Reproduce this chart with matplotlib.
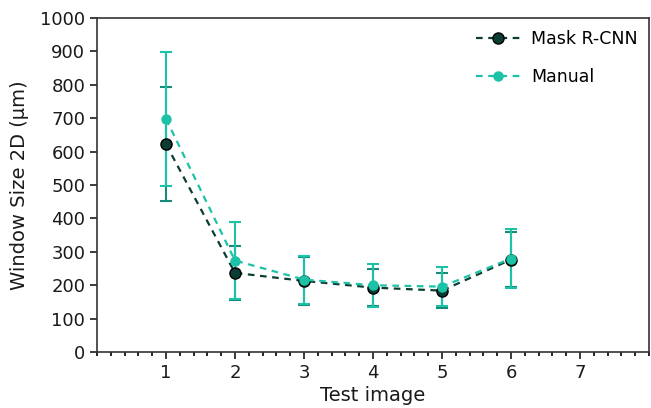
import numpy as np
import matplotlib
matplotlib.use("Agg")
from matplotlib import pyplot as plt
from matplotlib.ticker import MultipleLocator

images = [1, 2, 3, 4, 5, 6]
mask_rcnn = [622, 237, 213, 193, 184, 277]
mask_rcnn_err = [171, 80, 72, 55, 53, 83]
manual = [698, 274, 217, 200, 196, 280]
manual_err = [200, 115, 72, 65, 59, 88]

dark = '#0c3d35'
dark_err = '#178a78'
teal = '#1cc2a6'
txt = '#1a1a1a'

fig = plt.figure(figsize=(6.51, 4.08), dpi=100)
ax = fig.add_axes([0.149, 0.137, 0.848, 0.819])

ax.errorbar(images, mask_rcnn, yerr=mask_rcnn_err, fmt='none', ecolor=dark_err,
            elinewidth=1.5, capsize=4, capthick=1.5, zorder=2)
ax.errorbar(images, manual, yerr=manual_err, fmt='none', ecolor=teal,
            elinewidth=1.5, capsize=4, capthick=1.5, zorder=3)
ax.plot(images, mask_rcnn, linestyle=(0, (3, 2.5)), color=dark, linewidth=1.6,
        marker='o', markersize=8, markerfacecolor=dark, markeredgecolor='black',
        markeredgewidth=1.0, label='Mask R-CNN', zorder=4)
ax.plot(images, manual, linestyle=(0, (3, 2.5)), color=teal, linewidth=1.6,
        marker='o', markersize=6.5, markerfacecolor=teal, markeredgecolor=teal,
        label='Manual', zorder=5)

ax.set_xlim(0, 8)
ax.set_ylim(0, 1000)
ax.set_xticks([1, 2, 3, 4, 5, 6, 7])
ax.xaxis.set_minor_locator(MultipleLocator(0.2))
ax.set_yticks(np.arange(0, 1001, 100))
ax.tick_params(axis='both', which='major', direction='out', length=5, width=1.2,
               labelsize=13, colors=txt)
ax.tick_params(axis='x', which='minor', direction='out', length=3, width=1.2)
for s in ax.spines.values():
    s.set_linewidth(1.2)
    s.set_color('#333333')

ax.set_xlabel('Test image', fontsize=14, color=txt, labelpad=3)
ax.set_ylabel('Window Size 2D (µm)', fontsize=14, color=txt, labelpad=8)

ax.legend(loc='upper right', bbox_to_anchor=(1.008, 1.01), frameon=False,
          fontsize=12.5, labelspacing=1.15, handlelength=2.6, handletextpad=0.6)

fig.savefig('out.png', dpi=100)
